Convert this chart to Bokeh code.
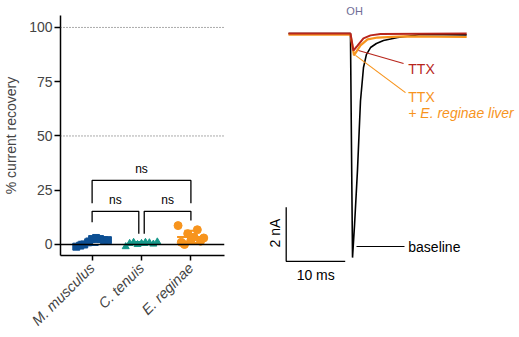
import math
import numpy as np
from bokeh.plotting import figure
from bokeh.layouts import row, column
from bokeh.models import FixedTicker, Span, Range1d
from bokeh.core.properties import value
from bokeh.embed import file_html
from bokeh.resources import INLINE

FONT = "Liberation Sans"

# ---------------- data: left panel ----------------
species = ["M. musculus", "C. tenuis", "E. reginae"]
mus_recovery = [-1.0, -0.5, 0.0, 1.0, 2.5, 3.0, 2.5, 2.0, 2.0]
ten_recovery = [-1.0, 0.5, 1.0, 0.0, 0.5, 1.0, 0.8, 0.2, 1.2]
reg_recovery = [8.7, 1.0, 0.0, 5.0, 2.0, 3.4, 6.8, 1.5, 3.0]
group_colors = ["#0d4f93", "#17998b", "#f7941d"]
group_markers = ["square", "triangle", "circle"]
group_sizes = [7, 7, 8]
y_ticks = [0, 25, 50, 75, 100]
dotted_levels = [50, 100]

# significance brackets (group numbers are 1-based)
cmp_left = [1, 1, 2]
cmp_right = [3, 2, 3]
cmp_bar = [29.5, 15.3, 15.3]
cmp_left_end = [19.0, 10.3, 5.0]
cmp_right_end = [19.0, 5.0, 11.0]
cmp_text = ["ns", "ns", "ns"]

# ---------------- data: right panel (ms, nA) ----------------
t_control = [0.0, 10.5, 10.68, 10.85, 11.19, 11.69, 12.2, 12.71, 13.2, 13.9, 14.9, 16.1, 18.5, 22.4, 30.2]
i_control = [0.0, 0.0, -4.33, -8.30, -7.10, -5.07, -2.50, -1.26, -0.78, -0.52, -0.37, -0.26, -0.15, -0.04, -0.05]
t_ttx = [0.0, 10.5, 11.0, 11.7, 12.7, 13.9, 15.6, 30.2]
i_ttx = [0.0, 0.0, -0.63, -0.45, -0.18, -0.07, -0.02, 0.0]
t_liver = [0.0, 10.5, 11.1, 12.2, 13.4, 15.1, 19.5, 30.2]
i_liver = [-0.04, -0.04, -0.81, -0.44, -0.22, -0.15, -0.11, -0.13]
scale_ms = 10
scale_na = 2

# ---------------- left figure ----------------
p1 = figure(width=260, height=337, x_range=Range1d(0.36, 3.68), y_range=Range1d(-5.07, 105.5),
            output_backend="svg", toolbar_location=None,
            min_border_left=58, min_border_right=36, min_border_top=15, min_border_bottom=82)
p1.outline_line_color = None
p1.grid.visible = False

for lvl in dotted_levels:
    p1.add_layout(Span(location=lvl, dimension="width", line_color="#555555",
                       line_width=1, line_dash="1 2"))
p1.add_layout(Span(location=0, dimension="width", line_color="black", line_width=1.5))

groups = [mus_recovery, ten_recovery, reg_recovery]
spreads = [0.08, 0.08, 0.065]
for gi, vals in enumerate(groups):
    pos = gi + 1
    n = len(vals)
    xs = [pos + (k - (n - 1) / 2) * spreads[gi] for k in range(n)]
    col = group_colors[gi]
    m = float(np.mean(vals))
    sd = float(np.std(vals, ddof=1))
    p1.scatter(xs, vals, marker=group_markers[gi], size=group_sizes[gi], color=col)
    p1.segment(x0=[pos - 0.28], y0=[m], x1=[pos + 0.28], y1=[m], line_color=col, line_width=2)
    p1.segment(x0=[pos, pos], y0=[m, m], x1=[pos, pos], y1=[m + sd, m - sd], line_color=col, line_width=2)
    p1.segment(x0=[pos - 0.13, pos - 0.13], y0=[m + sd, m - sd], x1=[pos + 0.13, pos + 0.13],
               y1=[m + sd, m - sd], line_color=col, line_width=2)

gap = 0.055
for a, b, bar, le, re, txt in zip(cmp_left, cmp_right, cmp_bar, cmp_left_end, cmp_right_end, cmp_text):
    xa = a + (gap if a == 2 else 0)
    xb = b - (gap if b == 2 else 0)
    p1.line([xa, xa, xb, xb], [le, bar, bar, re], line_color="black", line_width=1.3)
    p1.text(x=[(xa + xb) / 2], y=[bar + 2.2], text=[txt], text_align="center", text_baseline="bottom",
            text_font=value(FONT), text_font_size="12px", text_color="black")

yax = p1.yaxis[0]
yax.ticker = FixedTicker(ticks=y_ticks)
yax.axis_label = "% current recovery"
yax.axis_label_text_font = FONT
yax.axis_label_text_font_style = "normal"
yax.axis_label_text_font_size = "14px"
yax.axis_label_standoff = 7
yax.major_label_text_font = FONT
yax.major_label_text_font_size = "14px"
yax.major_label_standoff = 2
yax.major_tick_out = 6
yax.major_tick_in = 0
yax.minor_tick_out = 0
yax.minor_tick_in = 0
yax.axis_line_width = 1.5
yax.major_tick_line_width = 1.5

xax = p1.xaxis[0]
xax.ticker = FixedTicker(ticks=[1, 2, 3])
xax.major_label_overrides = {i + 1: s for i, s in enumerate(species)}
xax.major_label_orientation = math.pi / 4
xax.major_label_text_font = FONT
xax.major_label_text_font_style = "italic"
xax.major_label_text_font_size = "14.5px"
xax.major_label_standoff = 5
xax.major_tick_out = 5
xax.major_tick_in = 0
xax.minor_tick_out = 0
xax.axis_line_width = 1.5
xax.major_tick_line_width = 1.5

# ---------------- right figure ----------------
p2 = figure(width=259, height=337, x_range=Range1d(-4.746, 39.15), y_range=Range1d(-11.26, 1.222),
            output_backend="svg", toolbar_location=None, x_axis_type=None, y_axis_type=None,
            min_border=0)
p2.outline_line_color = None
p2.grid.visible = False

red = "#b8261c"
orange = "#f7941d"
p2.line(t_control, i_control, line_color="black", line_width=1.6)
p2.line(t_liver, i_liver, line_color=orange, line_width=2.2)
p2.line(t_ttx, i_ttx, line_color=red, line_width=2.0)

# pointers and labels
p2.segment(x0=[11.86], y0=[-0.63], x1=[19.5], y1=[-1.11], line_color=red, line_width=1.2)
p2.segment(x0=[11.36], y0=[-0.81], x1=[19.83], y1=[-2.19], line_color=orange, line_width=1.2)
p2.segment(x0=[11.53], y0=[-7.89], x1=[19.66], y1=[-7.89], line_color="black", line_width=1.2)
p2.text(x=[20.3], y=[-1.30], text=["TTX"], text_color=red, text_baseline="middle",
        text_font=value(FONT), text_font_size="14px")
p2.text(x=[20.3], y=[-2.37], text=["TTX"], text_color=orange, text_baseline="middle",
        text_font=value(FONT), text_font_size="14px")
p2.text(x=[20.3], y=[-2.96], text=["+ E. reginae liver"], text_color=orange, text_baseline="middle",
        text_font=value(FONT), text_font_size="14px", text_font_style="italic")
p2.text(x=[20.3], y=[-7.89], text=["baseline"], text_color="black", text_baseline="middle",
        text_font=value(FONT), text_font_size="14px")
p2.text(x=[9.8], y=[0.85], text=["OH"], text_color="#6f6d96", text_baseline="alphabetic",
        text_font=value(FONT), text_font_size="11px")

# scale bar
sx0, sy0 = -0.39, -8.44
p2.line([sx0, sx0, sx0 + scale_ms], [sy0 + scale_na, sy0, sy0], line_color="black", line_width=1.3)
p2.text(x=[sx0 + scale_ms / 2], y=[sy0 - 0.2], text=[f"{scale_ms} ms"], text_align="center",
        text_baseline="top", text_font=value(FONT), text_font_size="14px")
p2.text(x=[sx0 - 0.5], y=[sy0 + scale_na / 2 + 0.05], text=[f"{scale_na} nA"], text_align="center",
        text_baseline="bottom", angle=math.pi / 2, text_font=value(FONT), text_font_size="14px")

layout = row(p1, column(p2))
open("out.html", "w").write(file_html(layout, INLINE))
